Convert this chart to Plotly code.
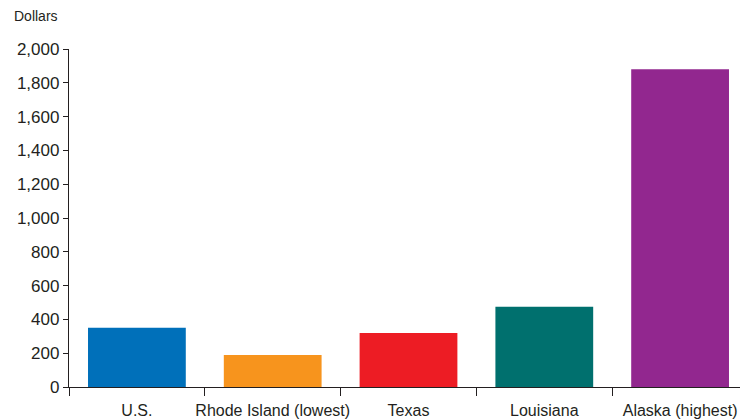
import plotly.graph_objects as go

categories = ["U.S.", "Rhode Island (lowest)", "Texas", "Louisiana", "Alaska (highest)"]
values = [350, 190, 320, 475, 1880]
colors = ["#0070BA", "#F7941D", "#ED1C24", "#00706E", "#92278F"]
y_ticks = [0, 200, 400, 600, 800, 1000, 1200, 1400, 1600, 1800, 2000]

FONT = "Liberation Sans Narrow, Arial Narrow, sans-serif"

fig = go.Figure(go.Bar(x=categories, y=values, marker_color=colors, marker_line_width=0, width=0.72))

# page body has an 8px default margin; compensate so the plot area lands at x 69-748, y 49-387
fig.update_layout(
    width=740, height=412,
    margin=dict(l=61, r=0, t=41, b=33),
    plot_bgcolor="white", paper_bgcolor="white",
    font=dict(family=FONT, size=16, color="#231F20"),
    showlegend=False,
)
fig.add_annotation(text="Dollars", xref="paper", yref="paper", x=-57/679, y=1 + 33/338,
                   xanchor="left", yanchor="middle", showarrow=False,
                   font=dict(family=FONT, size=14, color="#231F20"))

fig.update_xaxes(
    showline=True, linecolor="#231F20", linewidth=1.3,
    ticks="outside", tickson="boundaries", ticklen=8, tickcolor="#231F20", tickwidth=1.3,
    showgrid=False, tickfont=dict(size=16), range=[-0.5, 4.5],
    tickangle=0, automargin=False, ticklabelstandoff=9,
)
fig.update_yaxes(
    range=[0, 2000], tickvals=y_ticks, tickformat=",", showline=True, linecolor="#231F20", linewidth=1.3,
    ticks="outside", ticklen=5, tickcolor="#231F20", tickwidth=1.3,
    showgrid=False, zeroline=False, tickfont=dict(size=17), automargin=False,
)

fig.write_html("out.html")
